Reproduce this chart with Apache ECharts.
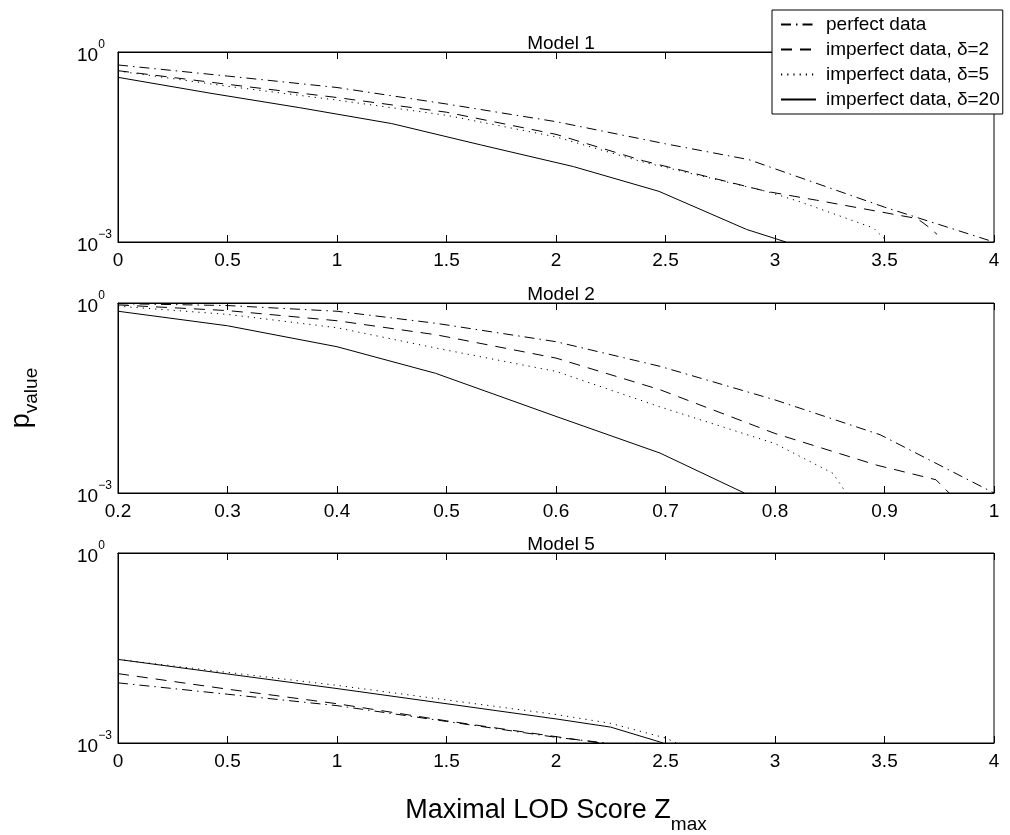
<!DOCTYPE html>
<html>
<head>
<meta charset="utf-8">
<script src="https://cdn.jsdelivr.net/npm/echarts@6/dist/echarts.min.js"></script>
<style>
  html, body { margin: 0; padding: 0; background: #fff; }
  #myChart { width: 1010px; height: 835px; }
</style>
</head>
<body>
<div id="myChart"></div>
<script>
// legend entries, shared by all three panels
const seriesNames = ["perfect data", "imperfect data, δ=2", "imperfect data, δ=5", "imperfect data, δ=20"];
const panelTitles = ["Model 1", "Model 2", "Model 5"];

// x tick ranges [min, max, step]
const m1Ticks = [0, 4, 0.5];
const m2Ticks = [0.2, 1, 0.1];
const m5Ticks = [0, 4, 0.5];

// Model 1
const m1PerfectX = [0, 0.5, 1.0, 1.5, 2.0, 2.5, 2.88, 3.5, 4.0];
const m1PerfectP = [0.624, 0.417, 0.275, 0.151, 0.0794, 0.0355, 0.0200, 0.00355, 0.00100];
const m1Delta2X = [0, 0.5, 1.0, 1.5, 2.0, 2.4, 2.96, 3.19, 3.65, 3.70, 3.74];
const m1Delta2P = [0.507, 0.309, 0.191, 0.112, 0.0501, 0.0191, 0.00631, 0.00457, 0.00234, 0.00174, 0.00132];
const m1Delta5X = [0, 0.5, 1.0, 1.5, 2.0, 2.4, 2.96, 3.11, 3.45, 3.50];
const m1Delta5P = [0.501, 0.288, 0.174, 0.100, 0.0457, 0.0182, 0.00631, 0.00437, 0.00166, 0.00112];
const m1Delta20X = [0, 0.42, 0.83, 1.25, 1.66, 2.08, 2.47, 2.87, 3.05];
const m1Delta20P = [0.398, 0.224, 0.132, 0.0741, 0.0339, 0.0155, 0.00631, 0.00158, 0.00100];

// Model 2
const m2PerfectX = [0.2, 0.3, 0.4, 0.49, 0.6, 0.695, 0.8, 0.896, 1.0];
const m2PerfectP = [0.977, 0.912, 0.741, 0.479, 0.245, 0.100, 0.0295, 0.00832, 0.00100];
const m2Delta2X = [0.2, 0.3, 0.4, 0.49, 0.6, 0.695, 0.8, 0.893, 0.947, 0.959];
const m2Delta2P = [0.933, 0.759, 0.525, 0.316, 0.135, 0.0427, 0.00871, 0.00275, 0.00162, 0.00100];
const m2Delta5X = [0.2, 0.3, 0.4, 0.49, 0.6, 0.695, 0.8, 0.853, 0.865];
const m2Delta5P = [0.891, 0.661, 0.407, 0.195, 0.0832, 0.0229, 0.00603, 0.00204, 0.00100];
const m2Delta20X = [0.2, 0.3, 0.4, 0.49, 0.6, 0.695, 0.772];
const m2Delta20P = [0.741, 0.437, 0.204, 0.0776, 0.0162, 0.00427, 0.00100];

// Model 5
const m5PerfectX = [0, 0.5, 1.0, 1.5, 2.0, 2.23];
const m5PerfectP = [0.00891, 0.00589, 0.00389, 0.00219, 0.00123, 0.00100];
const m5Delta2X = [0, 0.5, 1.0, 1.5, 2.0, 2.2];
const m5Delta2P = [0.01245, 0.00708, 0.00417, 0.00224, 0.00126, 0.00100];
const m5Delta5X = [0, 1.0, 2.0, 2.25, 2.5, 2.55];
const m5Delta5P = [0.0209, 0.00813, 0.00282, 0.00204, 0.00120, 0.00100];
const m5Delta20X = [0, 1.0, 2.0, 2.25, 2.49];
const m5Delta20P = [0.0209, 0.00724, 0.00240, 0.00178, 0.00100];

const panels = [
  { ticks: m1Ticks, lines: [[m1PerfectX, m1PerfectP], [m1Delta2X, m1Delta2P], [m1Delta5X, m1Delta5P], [m1Delta20X, m1Delta20P]] },
  { ticks: m2Ticks, lines: [[m2PerfectX, m2PerfectP], [m2Delta2X, m2Delta2P], [m2Delta5X, m2Delta5P], [m2Delta20X, m2Delta20P]] },
  { ticks: m5Ticks, lines: [[m5PerfectX, m5PerfectP], [m5Delta2X, m5Delta2P], [m5Delta5X, m5Delta5P], [m5Delta20X, m5Delta20P]] },
];

const font = '"Liberation Sans", Arial, sans-serif';
const dashTypes = [[10, 5, 1.5, 5], [11, 8], [1.2, 5], "solid"];
const gridTops = [52, 303, 553];
const gridH = 190;

let myChart = echarts.init(document.getElementById("myChart"));

let grids = [], xAxes = [], yAxes = [], titles = [], series = [];

panels.forEach((p, i) => {
  grids.push({
    left: 118, right: 16, top: gridTops[i], height: gridH,
    outerBoundsMode: "none", containLabel: false,
    show: true, borderColor: "#000", borderWidth: 1, backgroundColor: "#fff",
  });

  titles.push({
    text: panelTitles[i],
    left: 556, top: gridTops[i] - 23, textAlign: "center",
    textStyle: { fontFamily: font, fontSize: 19, fontWeight: "normal", color: "#000" },
  });

  // bottom axis with labels
  xAxes.push({
    type: "value", gridIndex: i, position: "bottom",
    min: p.ticks[0], max: p.ticks[1], interval: p.ticks[2],
    axisLine: { lineStyle: { color: "#000", width: 1 } },
    axisTick: { inside: true, length: 7, lineStyle: { color: "#000" } },
    splitLine: { show: false },
    axisLabel: {
      color: "#000", fontFamily: font, fontSize: 19, margin: 9,
      formatter: (v) => String(+v.toFixed(1)),
    },
    name: i === 2 ? "{b|Maximal LOD Score Z}{s|max}" : "",
    nameLocation: "middle", nameGap: 54,
    nameTextStyle: {
      rich: {
        b: { fontFamily: font, fontSize: 27, color: "#000", lineHeight: 20, verticalAlign: "top" },
        s: { fontFamily: font, fontSize: 19, color: "#000", lineHeight: 37, verticalAlign: "bottom" },
      },
    },
  });
  // top axis: ticks only
  xAxes.push({
    type: "value", gridIndex: i, position: "top",
    min: p.ticks[0], max: p.ticks[1], interval: p.ticks[2],
    axisLine: { lineStyle: { color: "#000", width: 1 } },
    axisTick: { inside: true, length: 7, lineStyle: { color: "#000" } },
    axisLabel: { show: false },
    splitLine: { show: false },
  });

  yAxes.push({
    type: "log", logBase: 10, gridIndex: i,
    min: 0.001, max: 1, interval: 3,
    axisLine: { lineStyle: { color: "#000", width: 1 } },
    axisTick: { show: false },
    splitLine: { show: false },
    minorTick: { show: false },
    axisLabel: {
      align: "left", margin: 41,
      formatter: (v) => (v > 0.5 ? "{b|10}{s|0}" : v < 0.002 ? "{b|10}{s|−3}" : ""),
      rich: {
        b: { fontFamily: font, fontSize: 19, color: "#000", lineHeight: 27, verticalAlign: "bottom" },
        s: { fontFamily: font, fontSize: 12, color: "#000", lineHeight: 4, verticalAlign: "top" },
      },
    },
    name: i === 1 ? "{b|p}{s|value}" : "",
    nameLocation: "middle", nameRotate: 90, nameGap: 77,
    nameTextStyle: {
      rich: {
        b: { fontFamily: font, fontSize: 27, color: "#000", lineHeight: 20, verticalAlign: "top" },
        s: { fontFamily: font, fontSize: 19, color: "#000", lineHeight: 33, verticalAlign: "bottom" },
      },
    },
  });

  p.lines.forEach((ln, k) => {
    series.push({
      name: seriesNames[k],
      type: "line",
      xAxisIndex: i * 2,
      yAxisIndex: i,
      symbol: "none",
      itemStyle: { color: "#000" },
      lineStyle: { color: "#000", width: 1, type: dashTypes[k] },
      data: ln[0].map((x, j) => [x, ln[1][j]]),
    });
  });
});

let option = {
  animation: false,
  backgroundColor: "#fff",
  title: titles,
  legend: {
    data: seriesNames,
    orient: "vertical",
    left: 772, top: 10,
    padding: [5, 3, 5, 8],
    itemGap: 6, itemWidth: 35, itemHeight: 10,
    backgroundColor: "#fff", borderColor: "#000", borderWidth: 1,
    selectedMode: false,
    itemStyle: { opacity: 0 },
    textStyle: { fontFamily: font, fontSize: 19, color: "#000", padding: [0, 0, 0, 5] },
  },
  grid: grids,
  xAxis: xAxes,
  yAxis: yAxes,
  series: series,
};
myChart.setOption(option);
</script>
</body>
</html>
